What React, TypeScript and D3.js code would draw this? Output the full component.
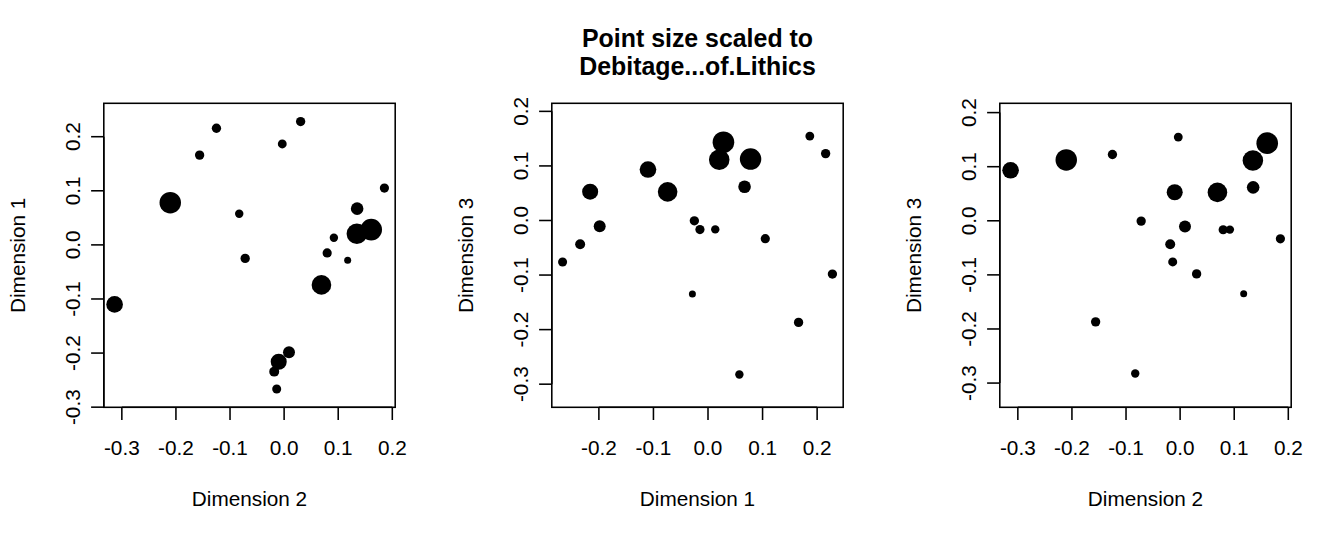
import React from 'react';
import * as d3 from 'd3';

// MDS coordinates of 20 assemblages
const dim1 = [-0.110, 0.078, 0.166, 0.2156, 0.0575, -0.025, 0.1866, 0.228, 0.105, 0.067, 0.0206, 0.0283, 0.0133, -0.0148, -0.0286, -0.074, -0.1985, -0.216, -0.2343, -0.2665];
const dim2 = [-0.3134, -0.2105, -0.1562, -0.1251, -0.083, -0.072, -0.0034, 0.0305, 0.1854, 0.135, 0.1345, 0.161, 0.092, 0.0796, 0.1175, 0.069, 0.009, -0.010, -0.0183, -0.0137];
const dim3 = [0.0934, 0.1125, -0.1868, 0.1226, -0.2823, -0.0006, 0.1547, -0.0982, -0.0333, 0.0618, 0.1115, 0.1435, -0.0163, -0.0166, -0.1348, 0.0525, -0.0107, 0.0528, -0.0434, -0.076];
// point size (cex) scaled to Debitage...of.Lithics
const pointCex = [1.07, 1.38, 0.6, 0.6, 0.54, 0.6, 0.57, 0.6, 0.59, 0.81, 1.32, 1.39, 0.54, 0.59, 0.45, 1.26, 0.77, 1.03, 0.64, 0.58];

const titleLines = ['Point size scaled to', 'Debitage...of.Lithics'];
const panelDefs = [
  { x: dim2, y: dim1, xlab: 'Dimension 2', ylab: 'Dimension 1' },
  { x: dim1, y: dim3, xlab: 'Dimension 1', ylab: 'Dimension 3' },
  { x: dim2, y: dim3, xlab: 'Dimension 2', ylab: 'Dimension 3' },
];

const W = 1344;
const H = 537;
const COL = 448;
const BOX_L = 103.8;
const BOX_W = 291.4;
const BOX_T = 103.3;
const BOX_H = 304;
const FONT = 'Liberation Sans, Arial, Helvetica, sans-serif';
const FS = 20.75;
const LWD = 1.56;
const CEX_PX = 7.78;

function extend(v: number[]): [number, number] {
  const [a, b] = d3.extent(v) as [number, number];
  const d = (b - a) * 0.04;
  return [a - d, b + d];
}

function fmt(v: number) {
  const t = Math.abs(v) < 1e-9 ? 0 : v;
  return t.toFixed(1);
}

function Panel({ def, idx }: { def: typeof panelDefs[number]; idx: number }) {
  const left = idx * COL + BOX_L;
  const right = left + BOX_W;
  const top = BOX_T;
  const bottom = BOX_T + BOX_H;
  // asp = 1 like R
  let [x0, x1] = extend(def.x);
  let [y0, y1] = extend(def.y);
  const ppu = Math.min(BOX_W / (x1 - x0), BOX_H / (y1 - y0));
  const xc = (x0 + x1) / 2, yc = (y0 + y1) / 2;
  x0 = xc - BOX_W / ppu / 2; x1 = xc + BOX_W / ppu / 2;
  y0 = yc - BOX_H / ppu / 2; y1 = yc + BOX_H / ppu / 2;
  const xs = d3.scaleLinear().domain([x0, x1]).range([left, right]);
  const ys = d3.scaleLinear().domain([y0, y1]).range([bottom, top]);
  const eps = 0.002;
  const xt = d3.ticks(x0 - eps, x1 + eps, 5);
  const yt = d3.ticks(y0 - eps, y1 + eps, 5);
  const tl = 12.7;
  const order = d3.range(def.x.length);
  return (
    <g>
      {order.map((i) => (
        <circle key={i} cx={xs(def.x[i])} cy={ys(def.y[i])} r={pointCex[i] * CEX_PX} fill="#000" />
      ))}
      <rect x={left} y={top} width={BOX_W} height={BOX_H} fill="none" stroke="#000" strokeWidth={LWD} />
      {/* x axis */}
      <line x1={xs(xt[0])} x2={xs(xt[xt.length - 1])} y1={bottom} y2={bottom} stroke="#000" strokeWidth={LWD} />
      {xt.map((t) => (
        <g key={'x' + t}>
          <line x1={xs(t)} x2={xs(t)} y1={bottom} y2={bottom + tl} stroke="#000" strokeWidth={LWD} />
          <text x={xs(t)} y={bottom + 47.7} textAnchor="middle" fontSize={FS} fontFamily={FONT}>{fmt(t)}</text>
        </g>
      ))}
      {/* y axis */}
      <line x1={left} x2={left} y1={ys(yt[0])} y2={ys(yt[yt.length - 1])} stroke="#000" strokeWidth={LWD} />
      {yt.map((t) => (
        <g key={'y' + t}>
          <line x1={left} x2={left - tl} y1={ys(t)} y2={ys(t)} stroke="#000" strokeWidth={LWD} />
          <text transform={`translate(${left - 24},${ys(t)}) rotate(-90)`} textAnchor="middle" fontSize={FS} fontFamily={FONT}>{fmt(t)}</text>
        </g>
      ))}
      <text x={(left + right) / 2} y={bottom + 98.7} textAnchor="middle" fontSize={FS} fontFamily={FONT}>{def.xlab}</text>
      <text transform={`translate(${left - 79.3},${(top + bottom) / 2}) rotate(-90)`} textAnchor="middle" fontSize={FS} fontFamily={FONT}>{def.ylab}</text>
      {idx === 1 &&
        titleLines.map((s, k) => (
          <text key={k} x={(left + right) / 2} y={47 + k * 28} textAnchor="middle" fontSize={FS * 1.2} fontWeight="bold" fontFamily={FONT}>{s}</text>
        ))}
    </g>
  );
}

export default function App() {
  return (
    <svg width={W} height={H} style={{ position: 'absolute', left: 0, top: 0, background: '#fff' }}>
      <rect width={W} height={H} fill="#fff" />
      {panelDefs.map((d, i) => (
        <Panel key={i} def={d} idx={i} />
      ))}
    </svg>
  );
}
